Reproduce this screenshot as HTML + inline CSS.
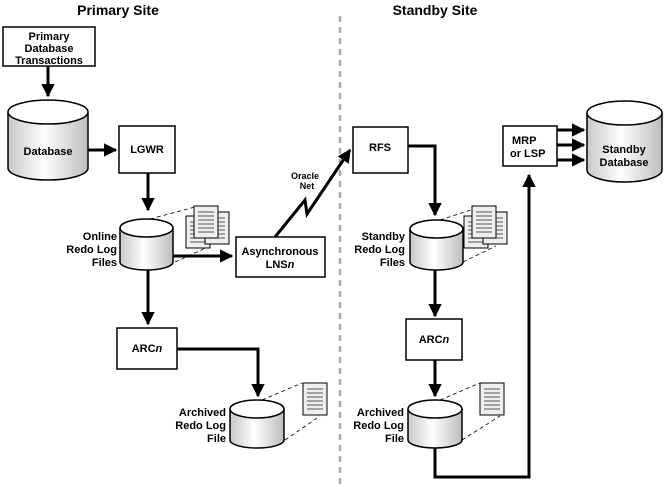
<!DOCTYPE html>
<html><head><meta charset="utf-8"><style>
body{margin:0;background:#fff}
svg{display:block}
text{font-family:"Liberation Sans",Arial,sans-serif;font-weight:bold;font-size:11px;fill:#000}
</style></head><body>
<svg width="665" height="489" viewBox="0 0 665 489" xmlns="http://www.w3.org/2000/svg">
<defs>
<linearGradient id="g" x1="0" x2="1" y1="0" y2="0">
<stop offset="0" stop-color="#c8c8c8"/><stop offset="0.45" stop-color="#ffffff"/><stop offset="1" stop-color="#bdbdbd"/>
</linearGradient>
<marker id="a" viewBox="0 0 10 10" refX="9" refY="5" markerWidth="4.5" markerHeight="4.5" orient="auto" markerUnits="strokeWidth">
<path d="M0,0 L10,5 L0,10 z" fill="#000"/></marker>
<g id="doc"><rect x="0" y="0" width="24" height="32" fill="#eee" stroke="#000" stroke-width="1"/>
<path d="M4,6h16M4,10h16M4,14h16M4,18h16M4,22h16M4,26h16" stroke="#555" stroke-width="1"/></g>
</defs>
<text x="118" y="15" text-anchor="middle" style="font-size:14px">Primary Site</text>
<text x="435" y="15" text-anchor="middle" style="font-size:14px">Standby Site</text>
<line x1="340" y1="16" x2="340" y2="489" stroke="#aaa" stroke-width="2.5" stroke-dasharray="6,5"/>

<g stroke="#000" stroke-width="3" fill="none">
<line x1="48" y1="66" x2="48" y2="96" marker-end="url(#a)"/>
<line x1="88" y1="150" x2="116" y2="150" marker-end="url(#a)"/>
<line x1="148" y1="173" x2="148" y2="210" marker-end="url(#a)"/>
<line x1="173" y1="256" x2="232" y2="256" marker-end="url(#a)"/>
<line x1="148" y1="270" x2="148" y2="324" marker-end="url(#a)"/>
<polyline points="177,349 258,349 258,396" marker-end="url(#a)"/>
<polyline points="275,237 305,200 307,214 350,150" marker-end="url(#a)"/>
<polyline points="408,146 435,146 435,215" marker-end="url(#a)"/>
<line x1="435" y1="270" x2="435" y2="316" marker-end="url(#a)"/>
<line x1="435" y1="360" x2="435" y2="396" marker-end="url(#a)"/>
<polyline points="435,448 435,477 529,477 529,175" marker-end="url(#a)"/>
<line x1="557" y1="130" x2="584" y2="130" marker-end="url(#a)"/>
<line x1="557" y1="145" x2="584" y2="145" marker-end="url(#a)"/>
<line x1="557" y1="160" x2="584" y2="160" marker-end="url(#a)"/>
</g>

<g stroke="#000" stroke-width="1.5" fill="#fff">
<rect x="3" y="27" width="92" height="39"/>
<rect x="119" y="126" width="56" height="47"/>
<rect x="236" y="237" width="89" height="40"/>
<rect x="117" y="328" width="60" height="41"/>
<rect x="353" y="127" width="55" height="46"/>
<rect x="406" y="319" width="56" height="41"/>
<rect x="503" y="126" width="54" height="40"/>
</g>

<g stroke="#000" stroke-width="1.5">
<path d="M8,112 v56 a40,12 0 0 0 80,0 v-56" fill="url(#g)"/><ellipse cx="48" cy="112" rx="40" ry="12" fill="#fff"/>
<path d="M120,228 v34 a26.5,8 0 0 0 53,0 v-34" fill="url(#g)"/><ellipse cx="146.5" cy="228" rx="26.5" ry="9" fill="#fff"/>
<path d="M230,409 v31 a27,8 0 0 0 54,0 v-31" fill="url(#g)"/><ellipse cx="257" cy="409" rx="27" ry="9" fill="#fff"/>
<path d="M410,229 v33 a26.5,8 0 0 0 53,0 v-33" fill="url(#g)"/><ellipse cx="436.5" cy="229" rx="26.5" ry="9" fill="#fff"/>
<path d="M408,409 v31 a27,8 0 0 0 54,0 v-31" fill="url(#g)"/><ellipse cx="435" cy="409" rx="27" ry="9" fill="#fff"/>
<path d="M587,113 v57 a37.5,12 0 0 0 75,0 v-57" fill="url(#g)"/><ellipse cx="624.5" cy="113" rx="37.5" ry="12" fill="#fff"/>
</g>

<g stroke="#000" stroke-width="0.8" stroke-dasharray="4,3">
<line x1="150" y1="219" x2="195" y2="207"/><line x1="175" y1="262" x2="210" y2="246"/>
<line x1="262" y1="400" x2="302" y2="383"/><line x1="285" y1="440" x2="320" y2="416"/>
<line x1="440" y1="220" x2="480" y2="207"/><line x1="463" y1="262" x2="496" y2="246"/>
<line x1="440" y1="400" x2="480" y2="383"/><line x1="462" y1="440" x2="500" y2="416"/>
</g>
<use href="#doc" x="186" y="216"/><use href="#doc" x="205" y="212"/><use href="#doc" x="194" y="206"/>
<use href="#doc" x="303" y="383"/>
<use href="#doc" x="464" y="216"/><use href="#doc" x="483" y="212"/><use href="#doc" x="472" y="206"/>
<use href="#doc" x="480" y="383"/>

<text x="49" y="40" text-anchor="middle">Primary</text>
<text x="49" y="52" text-anchor="middle">Database</text>
<text x="49" y="64" text-anchor="middle">Transactions</text>
<text x="48" y="155" text-anchor="middle">Database</text>
<text x="147" y="153" text-anchor="middle">LGWR</text>
<text x="117" y="240" text-anchor="end">Online</text>
<text x="117" y="253" text-anchor="end">Redo Log</text>
<text x="117" y="266" text-anchor="end">Files</text>
<text x="280" y="255" text-anchor="middle">Asynchronous</text>
<text x="280" y="268" text-anchor="middle">LNS<tspan font-style="italic">n</tspan></text>
<text x="305" y="179" text-anchor="middle" style="font-size:9px">Oracle</text>
<text x="307" y="189" text-anchor="middle" style="font-size:9px">Net</text>
<text x="147" y="352" text-anchor="middle">ARC<tspan font-style="italic">n</tspan></text>
<text x="226" y="416" text-anchor="end">Archived</text>
<text x="226" y="429" text-anchor="end">Redo Log</text>
<text x="226" y="442" text-anchor="end">File</text>
<text x="380" y="151" text-anchor="middle">RFS</text>
<text x="405" y="240" text-anchor="end">Standby</text>
<text x="405" y="253" text-anchor="end">Redo Log</text>
<text x="405" y="266" text-anchor="end">Files</text>
<text x="434" y="343" text-anchor="middle">ARC<tspan font-style="italic">n</tspan></text>
<text x="404" y="416" text-anchor="end">Archived</text>
<text x="404" y="429" text-anchor="end">Redo Log</text>
<text x="404" y="442" text-anchor="end">File</text>
<text x="512" y="144">MRP</text>
<text x="510" y="157">or LSP</text>
<text x="624" y="153" text-anchor="middle">Standby</text>
<text x="624" y="166" text-anchor="middle">Database</text>
</svg>
</body></html>
